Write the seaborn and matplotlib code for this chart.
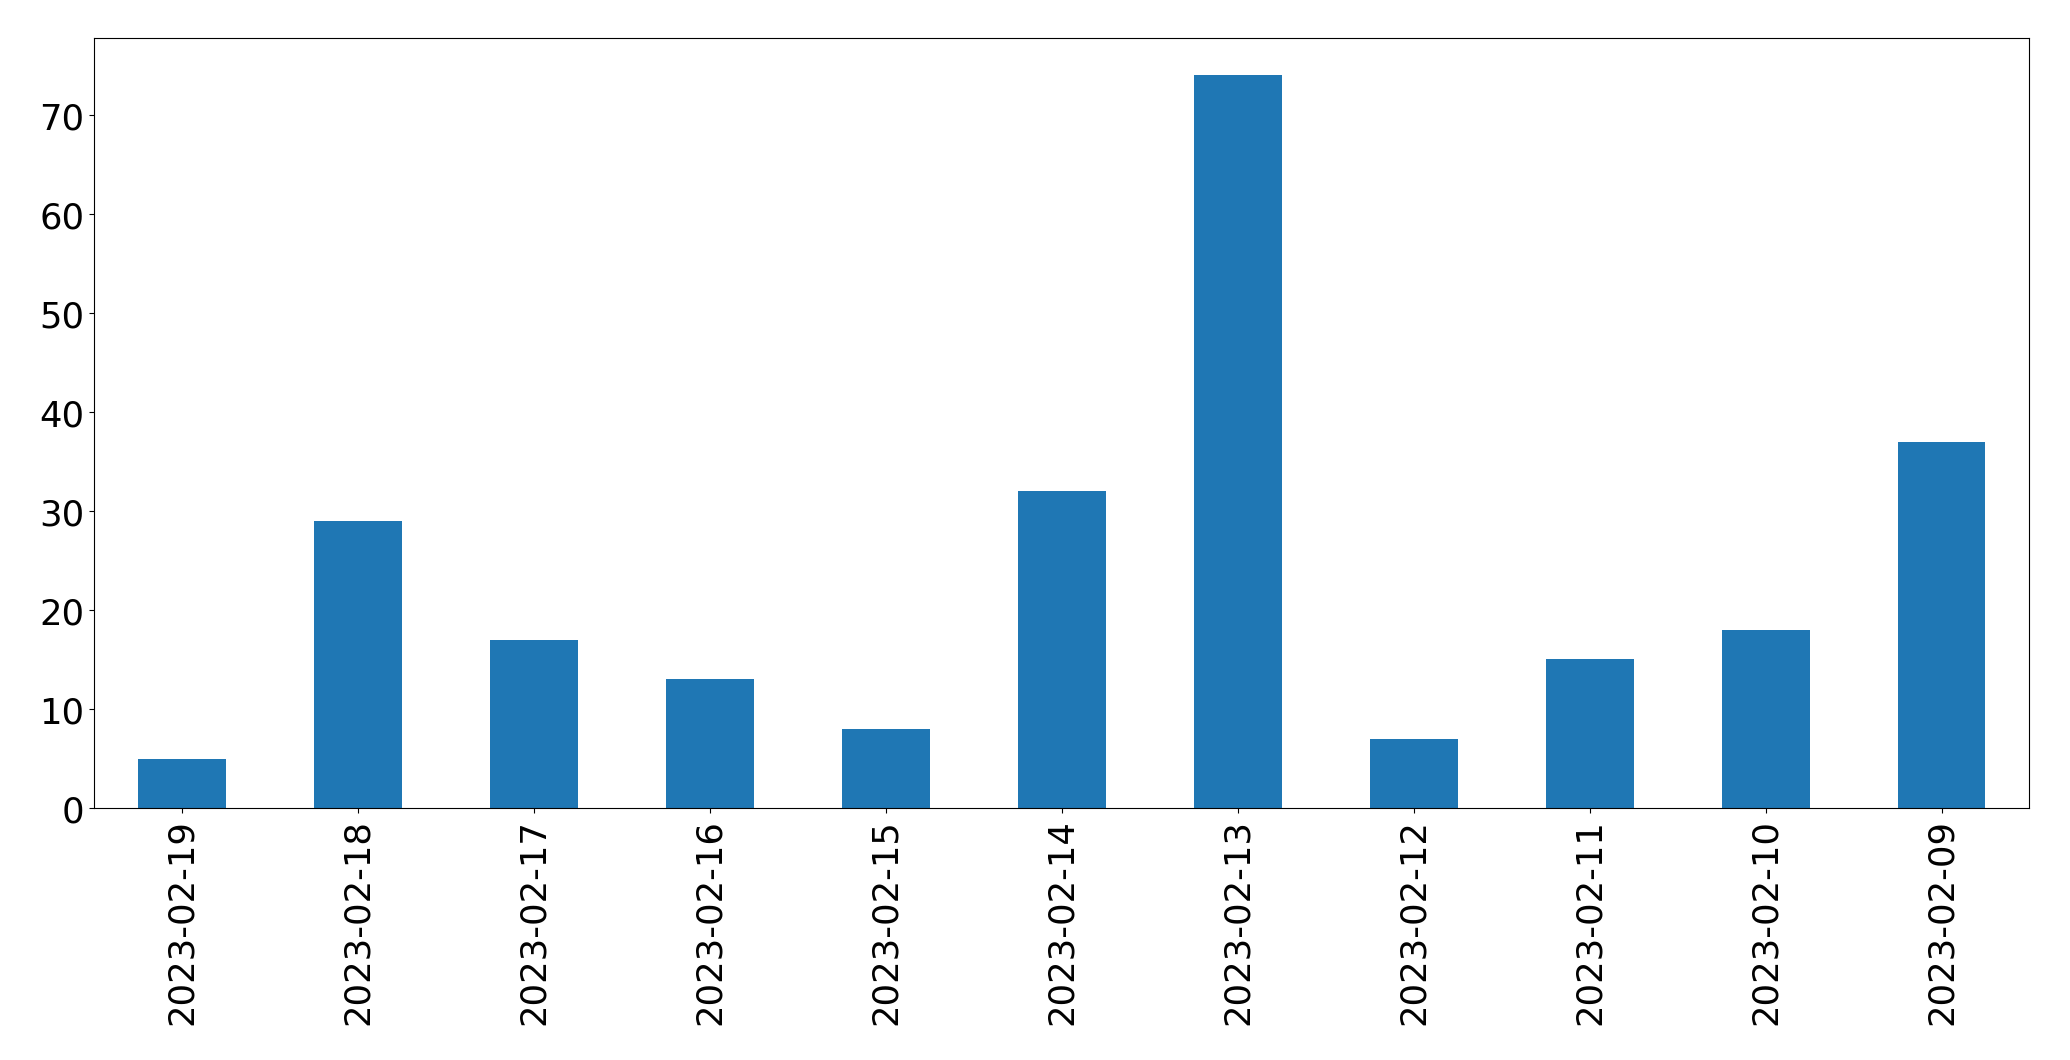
import seaborn as sns
from matplotlib import pyplot as plt
import pandas as pd

# Daily counts, newest first
dates = ["2023-02-19", "2023-02-18", "2023-02-17", "2023-02-16", "2023-02-15",
         "2023-02-14", "2023-02-13", "2023-02-12", "2023-02-11", "2023-02-10",
         "2023-02-09"]
counts = [5, 29, 17, 13, 8, 32, 74, 7, 15, 18, 37]

df = pd.DataFrame({"date": dates, "count": counts})

fig, ax = plt.subplots(figsize=(20.709, 10.609), dpi=100)

sns.barplot(data=df, x="date", y="count", color="#1f77b4", saturation=1,
            width=0.5, linewidth=0, ax=ax)

ax.set_xlabel("")
ax.set_ylabel("")
ax.set_xlim(-0.5, len(dates) - 0.5)
ax.tick_params(axis="both", labelsize=25.5)
plt.setp(ax.get_xticklabels(), rotation=90)

plt.subplots_adjust(left=0.0455, right=0.980, top=0.963, bottom=0.2375)
plt.savefig("out.png")
